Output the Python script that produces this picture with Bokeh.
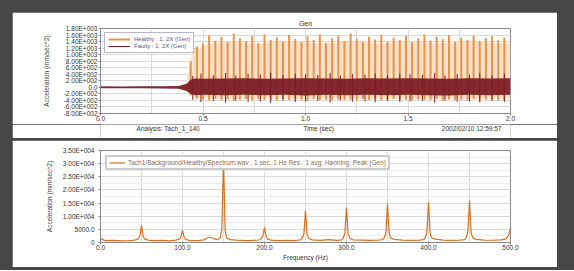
from bokeh.plotting import figure
from bokeh.layouts import column
from bokeh.models import Range1d, FixedTicker, Legend, LegendItem
from bokeh.core.properties import value
from bokeh.embed import file_html
from bokeh.resources import INLINE

FONT = "Liberation Sans"

# ---------------- top panel: time waveform ----------------
top_title = "Gen"
top_xlabel = "Time (sec)"
top_ylabel = "Acceleration (mm/sec^2)"
top_x_ticks = [0, 0.5, 1, 1.5, 2]
top_x_labels = ["0.0", "0.5", "1.0", "1.5", "2.0"]
top_y_ticks = [-800, -600, -400, -200, 0, 200, 400, 600, 800, 1000, 1200, 1400, 1600, 1800]
top_y_labels = ["-8.00E+002", "-6.00E+002", "-4.00E+002", "-2.00E+002", "0.0", "2.00E+002",
                "4.00E+002", "6.00E+002", "8.00E+002", "1.00E+003", "1.20E+003",
                "1.40E+003", "1.60E+003", "1.80E+003"]
analysis_text = "Analysis: Tach_1_140"
stamp_text = "2002/02/10 12:59:57"
legend_healthy = "Healthy : 1, 2X (Gen)"
legend_faulty = "Faulty : 1, 2X (Gen)"

# orange (healthy) spikes: time, top, bottom
or_t = [0.44, 0.47, 0.50, 0.53, 0.56, 0.59, 0.62, 0.65, 0.68, 0.71, 0.74, 0.77, 0.80,
        0.83, 0.86, 0.89, 0.92, 0.95, 0.98, 1.01, 1.04, 1.07, 1.10, 1.13, 1.16, 1.19,
        1.22, 1.25, 1.28, 1.31, 1.34, 1.37, 1.40, 1.43, 1.46, 1.49, 1.52, 1.55, 1.58,
        1.61, 1.64, 1.67, 1.70, 1.73, 1.76, 1.79, 1.82, 1.85, 1.88, 1.91, 1.94, 1.97]
or_hi = [800, 1250, 1350, 1600, 1420, 1550, 1380, 1650, 1500, 1420, 1580, 1350, 1620,
         1450, 1530, 1400, 1600, 1480, 1380, 1560, 1450, 1620, 1350, 1500, 1580, 1420,
         1650, 1480, 1390, 1550, 1460, 1600, 1400, 1520, 1450, 1580, 1380, 1500, 1620,
         1430, 1550, 1470, 1600, 1390, 1520, 1450, 1580, 1420, 1500, 1560, 1440, 1520]
or_lo = [-250, -350, -380, -400, -360, -390, -370, -410, -380, -360, -400, -370, -390,
         -380, -400, -360, -390, -370, -380, -410, -360, -390, -380, -400, -370, -390,
         -380, -400, -360, -390, -370, -400, -380, -360, -390, -380, -400, -370, -390,
         -380, -360, -400, -370, -390, -380, -400, -360, -390, -370, -380, -400, -380]
# light dense part of the healthy signal (envelope)
fill_t = [0.42, 0.45, 0.55, 0.65, 0.75, 0.85, 0.95, 1.05, 1.15, 1.25, 1.35, 1.45, 1.55,
          1.65, 1.75, 1.85, 1.95, 2.00]
fill_hi = [200, 1150, 1350, 1400, 1330, 1380, 1400, 1350, 1380, 1400, 1330, 1380, 1390,
           1350, 1380, 1400, 1350, 1380]
fill_lo = [-100, -300, -350, -360, -340, -350, -360, -350, -340, -360, -350, -340, -350,
           -360, -350, -340, -350, -350]
# dark (faulty) dense band envelope
band_t = [0.00, 0.10, 0.20, 0.30, 0.38, 0.42, 0.44, 0.46, 0.50, 0.60, 0.70, 0.80, 0.90,
          1.00, 1.10, 1.20, 1.30, 1.40, 1.50, 1.60, 1.70, 1.80, 1.90, 2.00]
band_hi = [30, 25, 30, 35, 45, 110, 230, 270, 260, 270, 280, 260, 270, 280, 270, 260,
           280, 270, 280, 270, 260, 280, 270, 280]
band_lo = [-30, -25, -30, -35, -45, -110, -200, -240, -230, -240, -230, -240, -230,
           -250, -230, -240, -230, -240, -230, -240, -250, -230, -240, -230]
# dark spikes
dk_t = [0.45, 0.49, 0.55, 0.61, 0.66, 0.72, 0.78, 0.83, 0.89, 0.95, 1.00, 1.06, 1.12,
        1.17, 1.23, 1.29, 1.34, 1.40, 1.46, 1.51, 1.57, 1.63, 1.68, 1.74, 1.80, 1.85,
        1.91, 1.97]
dk_hi = [350, 420, 380, 440, 360, 410, 390, 450, 370, 420, 400, 380, 440, 360, 410, 390,
         430, 370, 420, 400, 380, 440, 360, 410, 390, 430, 370, 420]
dk_lo = [-380, -450, -420, -470, -400, -440, -430, -480, -410, -450, -430, -420, -470,
         -400, -440, -430, -460, -410, -450, -430, -420, -470, -400, -440, -430, -460,
         -410, -450]

# ---------------- bottom panel: spectrum ----------------
bot_xlabel = "Frequency (Hz)"
bot_ylabel = "Acceleration (mm/sec^2)"
bot_x_ticks = [0, 100, 200, 300, 400, 500]
bot_x_labels = ["0.0", "100.0", "200.0", "300.0", "400.0", "500.0"]
bot_y_ticks = [0, 5000, 10000, 15000, 20000, 25000, 30000, 35000]
bot_y_labels = ["0", "5000.0", "1.00E+004", "1.50E+004", "2.00E+004", "2.50E+004",
                "3.00E+004", "3.50E+004"]
legend_spec = "Tach1/Background/Healthy/Spectrum.wav : 1 sec, 1 Hz Res : 1 avg, Hanning, Peak (Gen)"

freq = [0, 4, 8, 15, 25, 35, 42, 46, 48, 50, 52, 54, 58,
        65, 75, 85, 92, 96, 98, 100, 102, 104, 108,
        118, 126, 131, 134, 138, 143, 146, 148, 150, 152, 154, 158,
        166, 176, 186, 193, 196, 198, 200, 202, 204, 208,
        218, 228, 238, 244, 246, 248, 250, 252, 254, 258,
        268, 278, 288, 294, 296, 298, 300, 302, 304, 308,
        318, 328, 338, 344, 346, 348, 350, 352, 354, 358,
        368, 378, 388, 394, 396, 398, 400, 402, 404, 408,
        418, 428, 438, 444, 446, 448, 450, 452, 454, 458,
        468, 478, 488, 494, 496, 498, 500]
amp = [1500, 900, 700, 800, 650, 750, 900, 1400, 2600, 6500, 2400, 1300, 900,
       700, 800, 650, 900, 1300, 2200, 4600, 2000, 1200, 800,
       750, 1000, 1800, 2000, 1500, 1100, 1800, 5000, 32000, 4500, 1700, 1100,
       900, 750, 800, 950, 1400, 2500, 5700, 2300, 1300, 900,
       700, 800, 750, 1000, 1600, 3200, 12200, 3000, 1500, 1000,
       800, 1100, 800, 1000, 1700, 3500, 13300, 3300, 1600, 1000,
       900, 800, 850, 1100, 1800, 3600, 14800, 3400, 1700, 1200,
       900, 800, 850, 1100, 1800, 3800, 15200, 3500, 1700, 1300,
       900, 800, 900, 1100, 1900, 4000, 16000, 3600, 1800, 1200,
       900, 850, 1000, 1300, 2000, 3000, 5700]

ORANGE = "#e8924a"
PEACH = "#f9e0c8"
MAROON = "#7c1d26"
GRID = "#d9d9d9"
AXIS = "#8a8a8a"
TEXT = "#333333"
FS = "6.5px"


def style_axes(p):
    for ax in (p.xaxis[0], p.yaxis[0]):
        ax.major_label_text_font = FONT
        ax.major_label_text_font_size = FS
        ax.major_label_text_color = TEXT
        ax.axis_label_text_font = FONT
        ax.axis_label_text_font_size = FS
        ax.axis_label_text_font_style = "normal"
        ax.axis_label_text_color = TEXT
        ax.axis_line_color = AXIS
        ax.major_tick_line_color = AXIS
        ax.major_tick_out = 2
        ax.major_tick_in = 0
        ax.minor_tick_out = 0
        ax.minor_tick_in = 0
    p.xaxis.major_label_standoff = 0
    p.xaxis.axis_label_standoff = 1
    p.xgrid.grid_line_color = GRID
    p.ygrid.grid_line_color = GRID
    p.outline_line_color = AXIS


# ---- top figure (waveform) ----
top = figure(width=545, height=112, x_range=Range1d(0, 2), y_range=Range1d(-800, 1800),
             output_backend="svg", toolbar_location=None,
             min_border_left=88, min_border_right=47, min_border_top=16, min_border_bottom=11,
             background_fill_color="white", border_fill_color="white",
             margin=(12, 17, 0, 12))
top.title.text = top_title
top.title.align = "center"
top.title.text_font = FONT
top.title.text_font_size = "7px"
top.title.text_font_style = "normal"
top.title.text_color = TEXT
top.title.standoff = 3
top.xaxis.ticker = FixedTicker(ticks=top_x_ticks, minor_ticks=[0.25, 0.75, 1.25, 1.75])
top.yaxis.ticker = FixedTicker(ticks=top_y_ticks)
top.xaxis.major_label_overrides = dict(zip(top_x_ticks, top_x_labels))
top.yaxis.major_label_overrides = dict(zip(top_y_ticks, top_y_labels))
top.yaxis.axis_label = top_ylabel
style_axes(top)
top.yaxis.major_label_standoff = 1
top.yaxis.axis_label_standoff = 11
top.xgrid.minor_grid_line_color = GRID

top.varea(x=fill_t, y1=fill_lo, y2=fill_hi, fill_color=PEACH, fill_alpha=1)
r_or = top.segment(x0=or_t, y0=or_lo, x1=or_t, y1=or_hi, line_color=ORANGE, line_width=2)
top.varea(x=band_t, y1=band_lo, y2=band_hi, fill_color=MAROON, fill_alpha=0.95)
r_dk = top.segment(x0=dk_t, y0=dk_lo, x1=dk_t, y1=dk_hi, line_color=MAROON, line_width=1)

leg_top = Legend(items=[LegendItem(label=legend_healthy, renderers=[r_or]),
                        LegendItem(label=legend_faulty, renderers=[r_dk])],
                 location="top_left", margin=4, padding=3, spacing=1,
                 glyph_width=22, glyph_height=6, label_height=6, label_standoff=4,
                 label_text_font=FONT, label_text_font_size="6px",
                 label_text_color="#555577", border_line_color="#6f6f90",
                 border_line_width=1, background_fill_color="white", background_fill_alpha=1)
top.add_layout(leg_top)

# ---- footer strip of the top panel: analysis name, time axis title, time stamp ----
foot = figure(width=545, height=14, x_range=Range1d(0, 545), y_range=Range1d(0, 14),
              output_backend="svg", toolbar_location=None,
              x_axis_location=None, y_axis_location=None,
              min_border_left=0, min_border_right=0, min_border_top=0, min_border_bottom=0,
              background_fill_color="white", border_fill_color="white",
              outline_line_color=None, margin=(0, 17, 1, 12))
foot.grid.visible = False
foot.text(x=[48], y=[10], text=[analysis_text], text_align="left", text_baseline="middle",
          text_font=value(FONT), text_font_size=FS, text_color=TEXT)
foot.text(x=[290], y=[10], text=[top_xlabel], text_align="center", text_baseline="middle",
          text_font=value(FONT), text_font_size=FS, text_color=TEXT)
foot.text(x=[533], y=[10], text=[stamp_text], text_align="right", text_baseline="middle",
          text_font=value(FONT), text_font_size=FS, text_color=TEXT)

# ---- bottom figure (spectrum) ----
bot = figure(width=545, height=127, x_range=Range1d(0, 500), y_range=Range1d(0, 35000),
             output_backend="svg", toolbar_location=None,
             min_border_left=83, min_border_right=22, min_border_top=10, min_border_bottom=25,
             background_fill_color="white", border_fill_color="white",
             margin=(1, 17, 3, 12))
bot.xaxis.ticker = FixedTicker(ticks=bot_x_ticks,
                               minor_ticks=[50, 150, 250, 350, 450])
bot.yaxis.ticker = FixedTicker(ticks=bot_y_ticks,
                               minor_ticks=[2500, 7500, 12500, 17500, 22500, 27500, 32500])
bot.xaxis.major_label_overrides = dict(zip(bot_x_ticks, bot_x_labels))
bot.yaxis.major_label_overrides = dict(zip(bot_y_ticks, bot_y_labels))
bot.xaxis.axis_label = bot_xlabel
bot.yaxis.axis_label = bot_ylabel
style_axes(bot)
bot.yaxis.major_label_standoff = 4
bot.yaxis.axis_label_standoff = 7
bot.xgrid.minor_grid_line_color = GRID
bot.ygrid.minor_grid_line_color = "#ececec"

r_sp = bot.line(x=freq, y=amp, line_color="#d9701f", line_width=1.2)
leg_bot = Legend(items=[LegendItem(label=legend_spec, renderers=[r_sp])],
                 location="top_left", margin=5, padding=2, spacing=0,
                 glyph_width=16, glyph_height=5, label_height=5, label_standoff=3,
                 label_text_font=FONT, label_text_font_size="6.5px",
                 label_text_color="#8a6a50", border_line_color="#9a9a9a",
                 border_line_width=2, background_fill_color="white", background_fill_alpha=1)
bot.add_layout(leg_bot)

layout = column(top, foot, bot, spacing=0, styles={"background-color": "#474747"})

open("out.html", "w").write(file_html(layout, INLINE))
